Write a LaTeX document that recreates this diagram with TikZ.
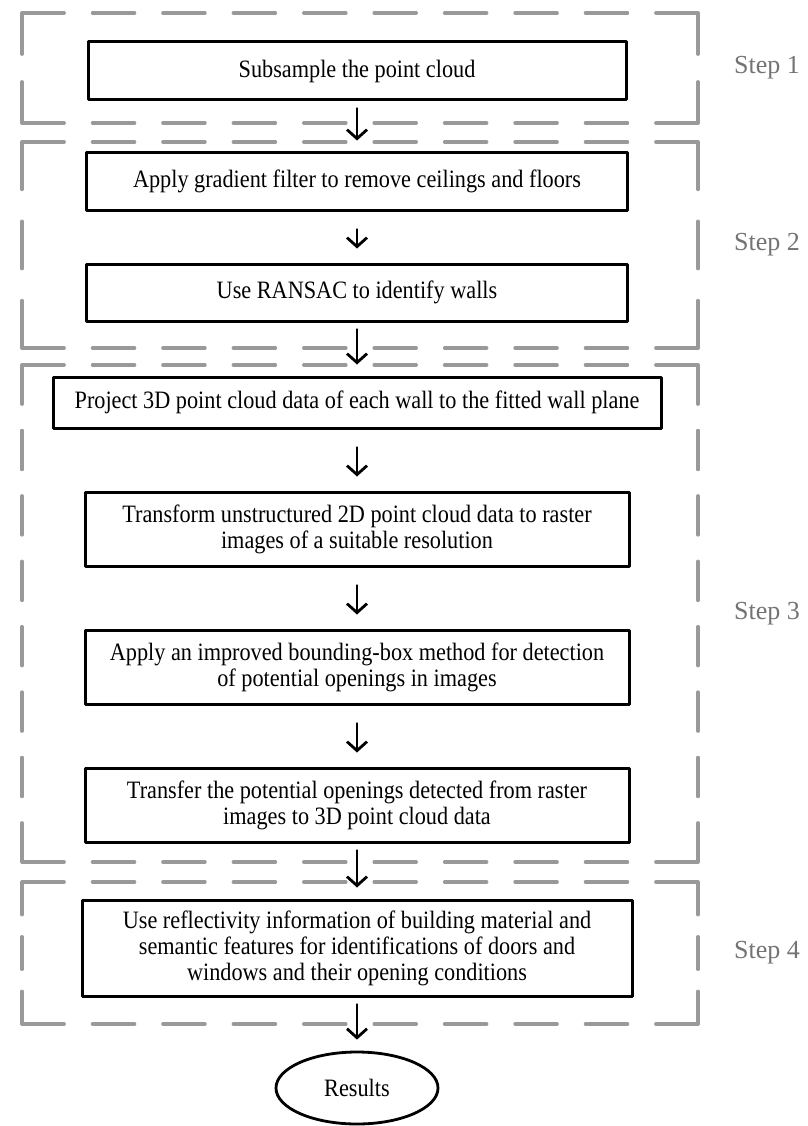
\documentclass[tikz,border=0pt]{standalone}
\usepackage{fontspec}
\setmainfont{Liberation Serif}[FakeStretch=0.89]
\newfontfamily\steplabelfont{Liberation Serif}
\usetikzlibrary{arrows.meta,shapes.geometric}

\begin{document}
\begin{tikzpicture}[x=1pt,y=-1pt,line cap=round,line join=round,
  >={Straight Barb[length=9pt,width=20pt]},
  every node/.style={inner sep=1pt,font=\fontsize{25}{26}\selectfont},
  proc/.style={draw,line width=3pt,minimum width=#1,align=center},
  proc/.default=544pt,
  frame/.style={draw=black!40,line width=3.2pt},
  flow/.style={->,line width=2.8pt,shorten <=18pt,shorten >=14pt},
  hop/.style={->,line width=2.8pt,shorten <=7pt,shorten >=11pt},
  steplbl/.style={text=black!55,anchor=west,font=\steplabelfont\fontsize{26}{28}\selectfont}]
  \useasboundingbox (0,0) rectangle (807,1126);
  \def\fl{22}
  \def\fr{698}
  \pgfmathsetmacro\hp{(\fr-\fl)/(floor((\fr-\fl)/70)+0.6)}
  \pgfmathsetmacro\hd{0.6*\hp}
  \pgfmathsetmacro\hg{0.4*\hp}
  \foreach \t/\b/\s in {13/123/1,142/348/2,365/862/3,882/1024/4} {
    \pgfmathsetmacro\m{(\t+\b)/2}
    \pgfmathsetmacro\vp{(\b-\t)/(floor((\b-\t)/70)+0.6)}
    \pgfmathsetmacro\vd{0.6*\vp}
    \pgfmathsetmacro\vg{0.4*\vp}
    \draw[frame,dash pattern=on \hd pt off \hg pt] (\fl,\t) -- (\fr,\t) (\fl,\b) -- (\fr,\b);
    \draw[frame,dash pattern=on \vd pt off \vg pt] (\fl,\t) -- (\fl,\b) (\fr,\t) -- (\fr,\b);
    \node[steplbl] (step\s) at (733,\m) {Step \s};
  }
  \node[proc=538pt,minimum height=58pt] (subsample) at (357,71) {Subsample the point cloud};
  \node[proc=541pt,minimum height=57pt] (gradient) at (357,181.5) {Apply gradient filter to remove ceilings and floors};
  \node[proc=541pt,minimum height=57pt] (ransac) at (357,292.5) {Use RANSAC to identify walls};
  \node[proc=608pt,minimum height=51pt] (project) at (357,402.5) {Project 3D point cloud data of each wall to the fitted wall plane};
  \node[proc,minimum height=74pt] (raster) at (357,529) {Transform unstructured 2D point cloud data to raster\\images of a suitable resolution};
  \node[proc,minimum height=74pt] (bbox) at (357,667) {Apply an improved bounding-box method for detection\\of potential openings in images};
  \node[proc,minimum height=74pt] (transfer) at (357,805) {Transfer the potential openings detected from raster\\images to 3D point cloud data};
  \node[proc=550pt,minimum height=96pt] (reflect) at (357,948) {Use reflectivity information of building material and\\semantic features for identifications of doors and\\windows and their opening conditions};
  \node[draw,ellipse,line width=2.8pt,minimum width=162pt,minimum height=72pt] (results) at (357,1088) {Results};
  \draw[hop] (subsample) -- (gradient);
  \draw[flow] (gradient) -- (ransac);
  \draw[hop] (ransac) -- (project);
  \draw[flow] (project) -- (raster);
  \draw[flow] (raster) -- (bbox);
  \draw[flow] (bbox) -- (transfer);
  \draw[hop] (transfer) -- (reflect);
  \draw[hop] (reflect) -- (results);
\end{tikzpicture}
\end{document}
